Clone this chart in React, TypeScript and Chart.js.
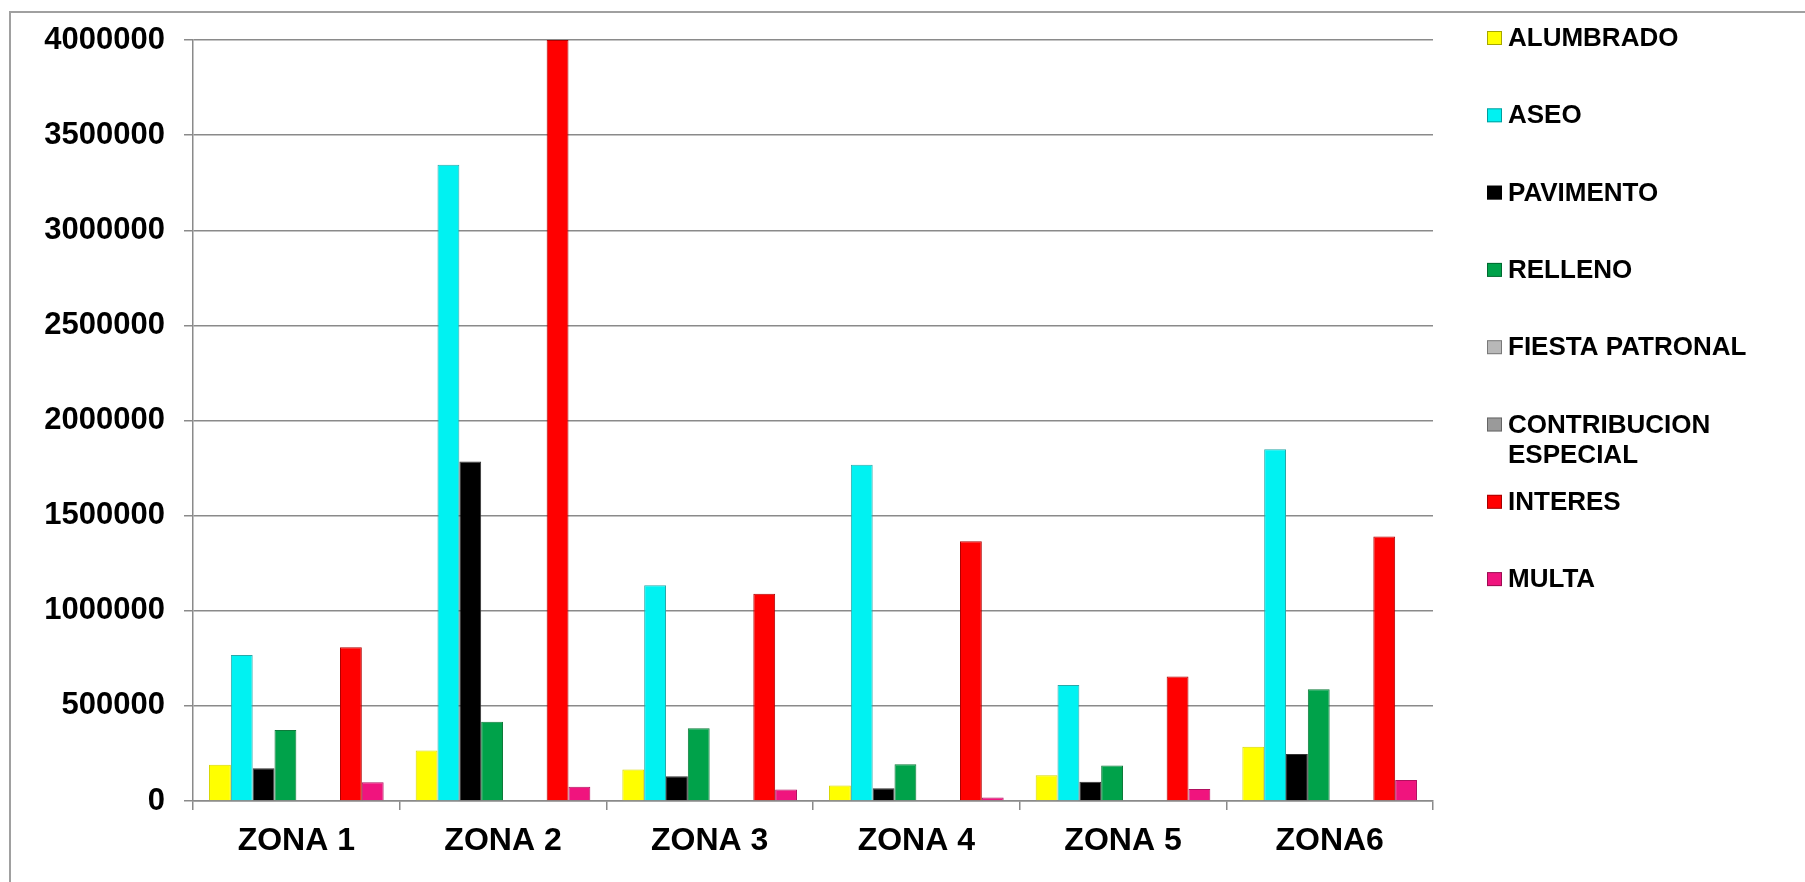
import React, { useEffect, useRef } from "react";
import { Chart, registerables } from "chart.js";

Chart.register(...registerables);

const categories = ["ZONA 1", "ZONA 2", "ZONA 3", "ZONA 4", "ZONA 5", "ZONA6"];
const seriesNames = [
  "ALUMBRADO",
  "ASEO",
  "PAVIMENTO",
  "RELLENO",
  "FIESTA PATRONAL",
  "CONTRIBUCION ESPECIAL",
  "INTERES",
  "MULTA",
];
const legendLines = [
  ["ALUMBRADO"],
  ["ASEO"],
  ["PAVIMENTO"],
  ["RELLENO"],
  ["FIESTA PATRONAL"],
  ["CONTRIBUCION", "ESPECIAL"],
  ["INTERES"],
  ["MULTA"],
];
const alumbrado = [190000, 265000, 165000, 82000, 135000, 285000];
const aseo = [768000, 3344000, 1134000, 1767000, 610000, 1849000];
const pavimento = [172000, 1785000, 130000, 67000, 101000, 247000];
const relleno = [373000, 417000, 382000, 193000, 186000, 587000];
const fiestaPatronal = [0, 0, 0, 0, 0, 0];
const contribucionEspecial = [0, 0, 0, 0, 0, 0];
const interes = [808000, 4000000, 1090000, 1365000, 654000, 1390000];
const multa = [98000, 75000, 60000, 18000, 63000, 110000];
const yTickValues = [0, 500000, 1000000, 1500000, 2000000, 2500000, 3000000, 3500000, 4000000];

const seriesValues = [alumbrado, aseo, pavimento, relleno, fiestaPatronal, contribucionEspecial, interes, multa];
const fillColors = ["#FFFF00", "#00F2F2", "#000000", "#00A24A", "#B8B8B8", "#9A9A9A", "#FF0000", "#F0147E"];
const edgeColors = ["#D8D800", "#2AA8A8", "#333333", "#0E7A3A", "#888888", "#777777", "#B00000", "#B0105E"];

const FONT = '"Liberation Sans", Arial, Helvetica, sans-serif';

const legendPlugin = {
  id: "sideLegend",
  afterDraw(chart: any) {
    const ctx = chart.ctx as CanvasRenderingContext2D;
    ctx.save();
    ctx.font = `bold 26px ${FONT}`;
    ctx.textBaseline = "middle";
    ctx.textAlign = "left";
    chart.data.datasets.forEach((ds: any, i: number) => {
      const y = 38 + i * 77.3;
      ctx.fillStyle = ds.backgroundColor;
      ctx.fillRect(1487, y - 7, 15, 14);
      ctx.strokeStyle = "rgba(0,0,0,0.35)";
      ctx.lineWidth = 1;
      ctx.strokeRect(1487.5, y - 6.5, 14, 13);
      ctx.fillStyle = "#000000";
      legendLines[i].forEach((line, j) => {
        ctx.fillText(line, 1508, y + j * 30 + 1);
      });
    });
    ctx.restore();
  },
};

export default function App() {
  const canvasRef = useRef<HTMLCanvasElement | null>(null);

  useEffect(() => {
    if (!canvasRef.current) return;
    const chart = new Chart(canvasRef.current, {
      type: "bar",
      data: {
        labels: categories,
        datasets: seriesNames.map((name, i) => ({
          label: name,
          data: seriesValues[i],
          backgroundColor: fillColors[i],
          borderColor: edgeColors[i],
          borderWidth: i === 4 || i === 5 ? 0 : 1,
          borderSkipped: "bottom",
          categoryPercentage: 0.845,
          barPercentage: 1.0,
        })),
      },
      options: {
        animation: false,
        responsive: false,
        maintainAspectRatio: false,
        layout: { padding: { left: 10, top: 40, right: 372, bottom: 24 } },
        plugins: {
          legend: { display: false },
          tooltip: { enabled: false },
          title: { display: false },
        },
        scales: {
          x: {
            grid: {
              display: true,
              drawOnChartArea: false,
              drawTicks: true,
              tickLength: 9,
              color: "#8a8a8a",
              lineWidth: 1.5,
              offset: true,
            },
            border: { display: true, color: "#8a8a8a", width: 1.5 },
            ticks: {
              color: "#000000",
              font: { family: FONT, size: 32, weight: "bold" },
              padding: 12,
              maxRotation: 0,
              autoSkip: false,
            },
            afterFit: (scale: any) => {
              scale.height = 57;
            },
          },
          y: {
            min: 0,
            max: 4000000,
            grid: {
              display: true,
              drawTicks: true,
              tickLength: 9,
              color: "#8a8a8a",
              lineWidth: 1.5,
            },
            border: { display: true, color: "#8a8a8a", width: 1.5 },
            afterBuildTicks: (scale: any) => {
              scale.ticks = yTickValues.map((v) => ({ value: v }));
            },
            ticks: {
              color: "#000000",
              font: { family: FONT, size: 31, weight: "bold" },
              padding: 19,
              callback: (v: any) => String(v),
            },
            afterFit: (scale: any) => {
              scale.width = 183;
            },
          },
        },
      },
      plugins: [legendPlugin],
    });
    return () => chart.destroy();
  }, []);

  return (
    <div style={{ position: "absolute", left: 0, top: 0, width: 1805, height: 882, background: "#ffffff", overflow: "hidden" }}>
      <div
        style={{
          position: "absolute",
          left: 9,
          top: 11,
          width: 1805,
          height: 900,
          borderLeft: "2px solid #a0a0a0",
          borderTop: "2px solid #a0a0a0",
          boxSizing: "border-box",
        }}
      />
      <canvas ref={canvasRef} width={1805} height={882} style={{ position: "absolute", left: 0, top: 0, width: 1805, height: 882 }} />
    </div>
  );
}
